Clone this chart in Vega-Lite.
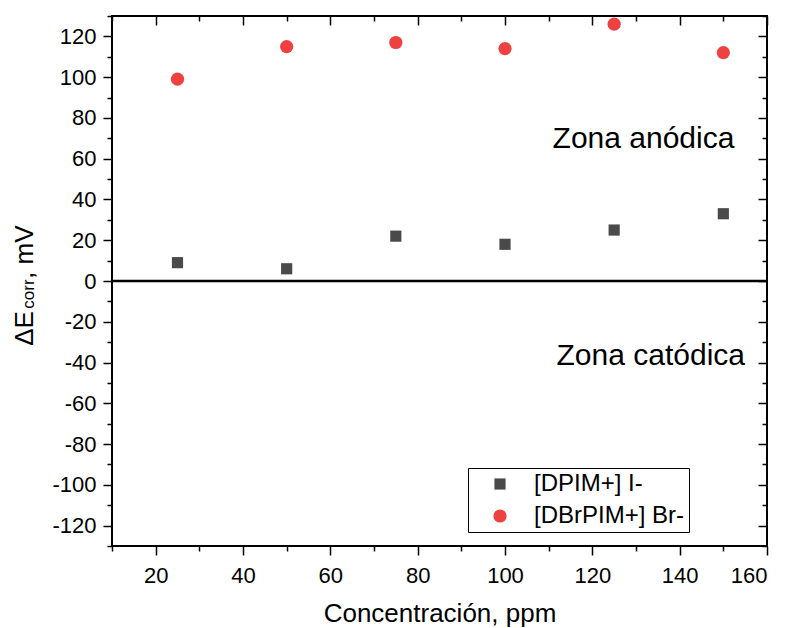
{
  "$schema": "https://vega.github.io/schema/vega-lite/v6.json",
  "width": 655,
  "height": 530,
  "autosize": {"type": "none"},
  "padding": {"left": 112, "top": 16, "right": 19, "bottom": 82},
  "background": "white",
  "config": {
    "view": {"stroke": "black", "strokeWidth": 2},
    "font": "Liberation Sans",
    "axis": {
      "grid": false,
      "domain": false,
      "tickColor": "black",
      "tickWidth": 1.5,
      "labelColor": "black",
      "labelFont": "Liberation Sans",
      "labelFontSize": 22,
      "labelOverlap": false,
      "titleFont": "Liberation Sans",
      "titleFontSize": 26,
      "titleFontWeight": "normal",
      "titleColor": "black"
    },
    "legend": {
      "orient": "none",
      "legendX": 356,
      "legendY": 452,
      "strokeColor": "black",
      "strokeWidth": 1,
      "fillColor": "white",
      "padding": 4,
      "rowPadding": 8,
      "labelFont": "Liberation Sans",
      "labelFontSize": 24,
      "labelColor": "black",
      "labelLimit": 400,
      "symbolOffset": 16,
      "labelOffset": 22
    }
  },
  "datasets": {
    "pts": [
      {"series": "[DPIM+] I-", "conc": 25, "dE": 9},
      {"series": "[DPIM+] I-", "conc": 50, "dE": 6},
      {"series": "[DPIM+] I-", "conc": 75, "dE": 22},
      {"series": "[DPIM+] I-", "conc": 100, "dE": 18},
      {"series": "[DPIM+] I-", "conc": 125, "dE": 25},
      {"series": "[DPIM+] I-", "conc": 150, "dE": 33},
      {"series": "[DBrPIM+] Br-", "conc": 25, "dE": 99},
      {"series": "[DBrPIM+] Br-", "conc": 50, "dE": 115},
      {"series": "[DBrPIM+] Br-", "conc": 75, "dE": 117},
      {"series": "[DBrPIM+] Br-", "conc": 100, "dE": 114},
      {"series": "[DBrPIM+] Br-", "conc": 125, "dE": 126},
      {"series": "[DBrPIM+] Br-", "conc": 150, "dE": 112}
    ],
    "one": [{"k": 1}]
  },
  "resolve": {"axis": {"x": "independent", "y": "independent"}},
  "layer": [
    {
      "data": {"name": "pts"},
      "mark": {"type": "point", "filled": true, "opacity": 1},
      "encoding": {
        "x": {
          "field": "conc", "type": "quantitative",
          "scale": {"domain": [10, 160], "nice": false, "zero": false},
          "axis": {
            "orient": "bottom",
            "values": [10, 20, 30, 40, 50, 60, 70, 80, 90, 100, 110, 120, 130, 140, 150, 160],
            "labelExpr": "datum.value % 20 === 0 ? '' + datum.value : ''",
            "labelOverlap": false,
            "tickSize": {"condition": {"test": "datum.value % 20 === 0", "value": 9}, "value": 5},
            "labelPadding": 10,
            "title": "Concentración, ppm",
            "titleBaseline": "alphabetic",
            "titleY": 75
          }
        },
        "y": {
          "field": "dE", "type": "quantitative",
          "scale": {"domain": [-130, 130], "nice": false, "zero": false},
          "axis": {
            "orient": "left",
            "values": [-130, -120, -110, -100, -90, -80, -70, -60, -50, -40, -30, -20, -10, 0, 10, 20, 30, 40, 50, 60, 70, 80, 90, 100, 110, 120, 130],
            "labelExpr": "datum.value % 20 === 0 ? '' + datum.value : ''",
            "labelOverlap": false,
            "tickSize": {"condition": {"test": "datum.value % 20 === 0", "value": 9}, "value": 5},
            "labelPadding": 7,
            "title": null
          }
        },
        "color": {
          "field": "series", "type": "nominal", "title": null,
          "scale": {"domain": ["[DPIM+] I-", "[DBrPIM+] Br-"], "range": ["#4a4a4a", "#f04141"]}
        },
        "shape": {
          "field": "series", "type": "nominal", "title": null,
          "scale": {"domain": ["[DPIM+] I-", "[DBrPIM+] Br-"], "range": ["square", "circle"]}
        },
        "size": {
          "field": "series", "type": "nominal", "title": null,
          "scale": {"domain": ["[DPIM+] I-", "[DBrPIM+] Br-"], "range": [125, 175]}
        }
      }
    },
    {
      "data": {"values": [{"dE": 0}]},
      "mark": {"type": "rule", "color": "black", "strokeWidth": 2.5},
      "encoding": {
        "y": {"field": "dE", "type": "quantitative", "scale": {"domain": [-130, 130], "nice": false, "zero": false}, "axis": null}
      }
    },
    {
      "data": {"name": "one"},
      "mark": {"type": "text", "fontSize": 30, "font": "Liberation Sans", "align": "left", "baseline": "alphabetic", "color": "black"},
      "encoding": {
        "x": {"datum": 110.9, "type": "quantitative", "scale": {"domain": [10, 160], "nice": false, "zero": false}, "axis": null},
        "y": {"datum": 65.4, "type": "quantitative", "scale": {"domain": [-130, 130], "nice": false, "zero": false}, "axis": null},
        "text": {"value": "Zona anódica"}
      }
    },
    {
      "data": {"name": "one"},
      "mark": {"type": "text", "fontSize": 30, "font": "Liberation Sans", "align": "left", "baseline": "alphabetic", "color": "black"},
      "encoding": {
        "x": {"datum": 111.8, "type": "quantitative", "scale": {"domain": [10, 160], "nice": false, "zero": false}, "axis": null},
        "y": {"datum": -41.1, "type": "quantitative", "scale": {"domain": [-130, 130], "nice": false, "zero": false}, "axis": null},
        "text": {"value": "Zona catódica"}
      }
    },
    {
      "data": {"name": "one"},
      "mark": {"type": "text", "fontSize": 26, "font": "Liberation Sans", "align": "left", "baseline": "alphabetic", "angle": 270, "color": "black"},
      "encoding": {
        "x": {"datum": -8.1, "type": "quantitative", "scale": {"domain": [10, 160], "nice": false, "zero": false}, "axis": null},
        "y": {"datum": -31.8, "type": "quantitative", "scale": {"domain": [-130, 130], "nice": false, "zero": false}, "axis": null},
        "text": {"value": "ΔE"}
      }
    },
    {
      "data": {"name": "one"},
      "mark": {"type": "text", "fontSize": 17, "font": "Liberation Sans", "align": "left", "baseline": "alphabetic", "angle": 270, "color": "black"},
      "encoding": {
        "x": {"datum": -7.85, "type": "quantitative", "scale": {"domain": [10, 160], "nice": false, "zero": false}, "axis": null},
        "y": {"datum": -13.6, "type": "quantitative", "scale": {"domain": [-130, 130], "nice": false, "zero": false}, "axis": null},
        "text": {"value": "corr"}
      }
    },
    {
      "data": {"name": "one"},
      "mark": {"type": "text", "fontSize": 26, "font": "Liberation Sans", "align": "left", "baseline": "alphabetic", "angle": 270, "color": "black"},
      "encoding": {
        "x": {"datum": -8.1, "type": "quantitative", "scale": {"domain": [10, 160], "nice": false, "zero": false}, "axis": null},
        "y": {"datum": 1.0, "type": "quantitative", "scale": {"domain": [-130, 130], "nice": false, "zero": false}, "axis": null},
        "text": {"value": ", mV"}
      }
    },
    {
      "data": {"name": "pts"},
      "mark": {"type": "point", "opacity": 0},
      "encoding": {
        "x": {
          "field": "conc", "type": "quantitative",
          "scale": {"domain": [10, 160], "nice": false, "zero": false},
          "axis": {
            "orient": "top",
            "values": [10, 20, 30, 40, 50, 60, 70, 80, 90, 100, 110, 120, 130, 140, 150, 160],
            "labels": false,
            "tickSize": {"condition": {"test": "datum.value % 20 === 0", "value": -9}, "value": -5},
            "title": null
          }
        },
        "y": {
          "field": "dE", "type": "quantitative",
          "scale": {"domain": [-130, 130], "nice": false, "zero": false},
          "axis": {
            "orient": "right",
            "values": [-130, -120, -110, -100, -90, -80, -70, -60, -50, -40, -30, -20, -10, 0, 10, 20, 30, 40, 50, 60, 70, 80, 90, 100, 110, 120, 130],
            "labels": false,
            "tickSize": {"condition": {"test": "datum.value % 20 === 0", "value": -9}, "value": -5},
            "title": null
          }
        }
      }
    }
  ]
}
